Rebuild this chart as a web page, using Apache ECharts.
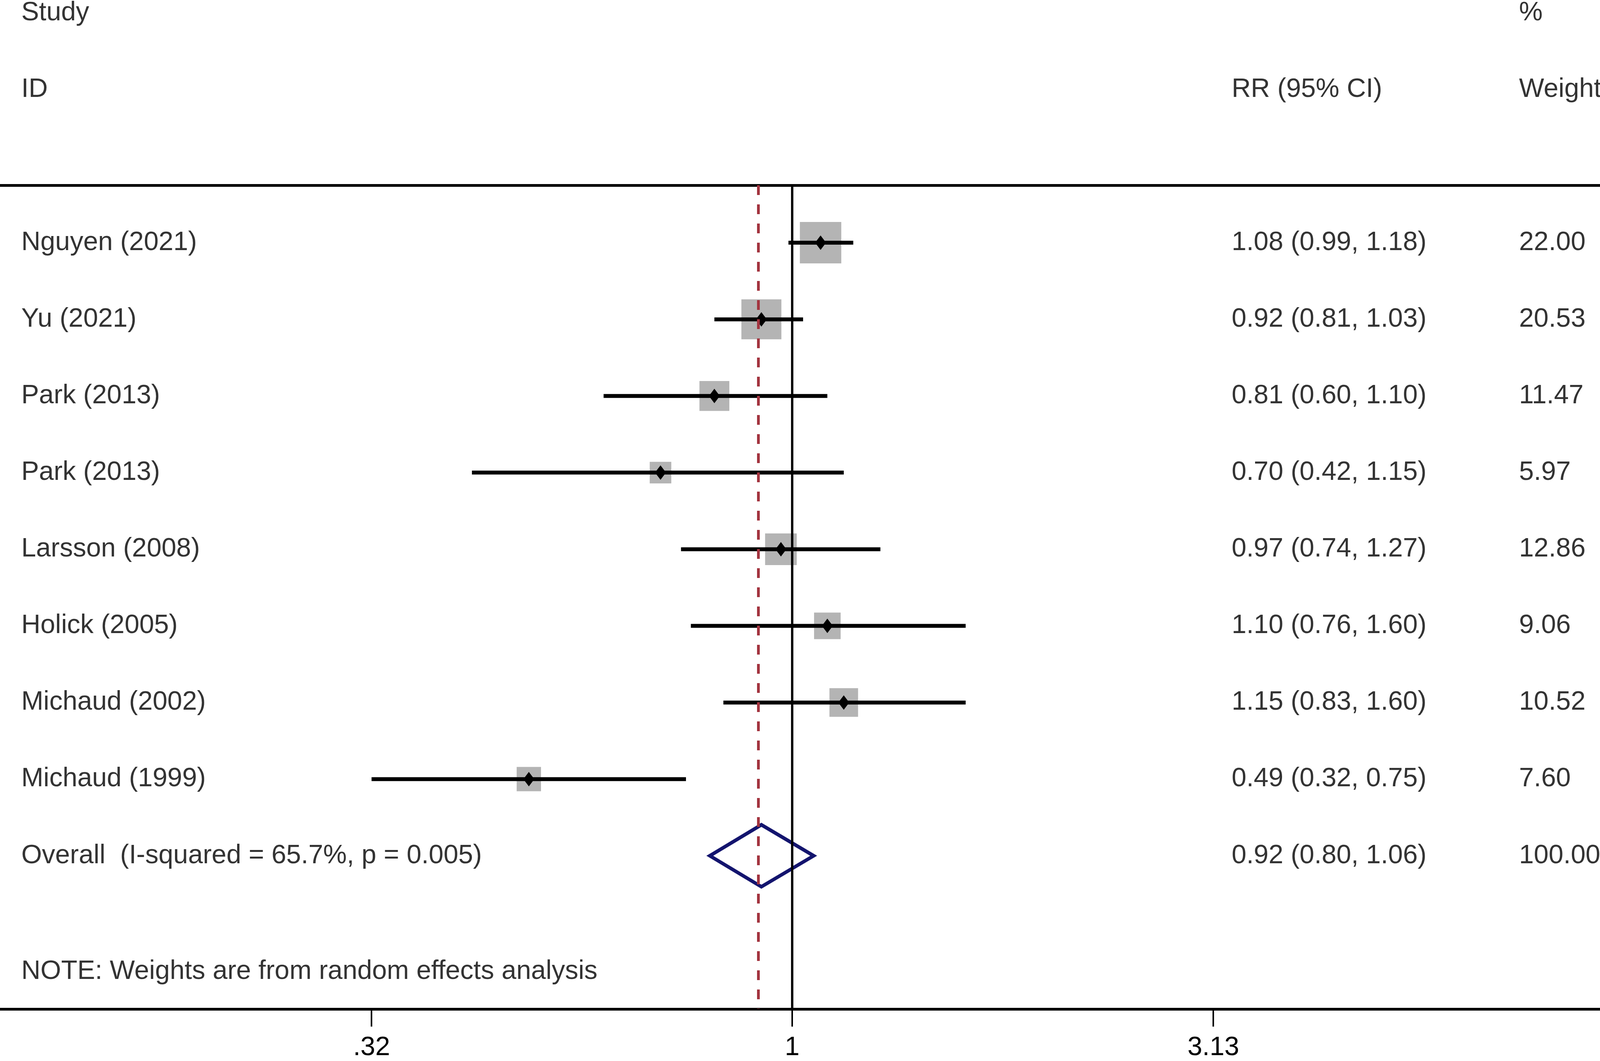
<!DOCTYPE html>
<html>
<head>
<meta charset="utf-8">
<title>Forest plot</title>
<script src="https://cdn.jsdelivr.net/npm/echarts@6/dist/echarts.min.js"></script>
<style>
  html, body { margin: 0; padding: 0; background: #fff; }
  #chart { width: 4317px; height: 2715px; }
</style>
</head>
<body>
<div id="chart"></div>
<script>
// study rows, top to bottom
const studies = ['Nguyen (2021)', 'Yu (2021)', 'Park (2013)', 'Park (2013)', 'Larsson (2008)', 'Holick (2005)', 'Michaud (2002)', 'Michaud (1999)'];
const rr = [1.08, 0.92, 0.81, 0.70, 0.97, 1.10, 1.15, 0.49];
const ciLower = [0.99, 0.81, 0.60, 0.42, 0.74, 0.76, 0.83, 0.32];
const ciUpper = [1.18, 1.03, 1.10, 1.15, 1.27, 1.60, 1.60, 0.75];
const weights = [22.00, 20.53, 11.47, 5.97, 12.86, 9.06, 10.52, 7.60];

const overallLabel = 'Overall  (I-squared = 65.7%, p = 0.005)';
const overallRR = 0.92;
const overallLower = 0.80;
const overallUpper = 1.06;
const overallWeight = 100.00;

const tickValues = [0.32, 1, 3.13];
const tickLabels = ['.32', '1', '3.13'];

const headStudy = ['Study', 'ID'];
const headRR = 'RR (95% CI)';
const headWeight = ['%', 'Weight'];
const noteText = 'NOTE: Weights are from random effects analysis';

// layout (log10 units on x, row numbers on y)
const X_MIN = -0.932, X_MAX = 1.052;
const COL_STUDY = -0.907, COL_RR = 0.5170, COL_WEIGHT = 0.8552;
const ROW_OVERALL = studies.length + 1;
const ROW_NOTE = 10.51;
const FONT = 'Liberation Sans, Arial, sans-serif';
const FS = 68;

const lg = v => Math.log10(v);
const fmt = v => v.toFixed(2);

const rows = studies.map((s, i) => i + 1);

// text items
const textData = [];
headStudy.forEach((t, i) => textData.push({ name: t, value: [COL_STUDY, i - 2] }));
textData.push({ name: headRR, value: [COL_RR, -1] });
headWeight.forEach((t, i) => textData.push({ name: t, value: [COL_WEIGHT, i - 2] }));
studies.forEach((s, i) => {
  textData.push({ name: s, value: [COL_STUDY, rows[i]] });
  textData.push({ name: fmt(rr[i]) + ' (' + fmt(ciLower[i]) + ', ' + fmt(ciUpper[i]) + ')', value: [COL_RR, rows[i]] });
  textData.push({ name: fmt(weights[i]), value: [COL_WEIGHT, rows[i]] });
});
textData.push({ name: overallLabel, value: [COL_STUDY, ROW_OVERALL] });
textData.push({ name: fmt(overallRR) + ' (' + fmt(overallLower) + ', ' + fmt(overallUpper) + ')', value: [COL_RR, ROW_OVERALL] });
textData.push({ name: fmt(overallWeight), value: [COL_WEIGHT, ROW_OVERALL] });
textData.push({ name: noteText, value: [COL_STUDY, ROW_NOTE] });

const chart = echarts.init(document.getElementById('chart'), null, { renderer: 'canvas' });

const option = {
  backgroundColor: '#fff',
  animation: false,
  grid: { left: 0, right: 0, top: 474, bottom: 123 },
  xAxis: [
    {
      type: 'value',
      min: X_MIN,
      max: X_MAX,
      position: 'bottom',
      splitLine: { show: false },
      axisLine: { show: true, onZero: false, lineStyle: { color: '#000', width: 7 } },
      axisTick: { show: true, customValues: tickValues.map(lg), length: 45, lineStyle: { color: '#000', width: 4 } },
      axisLabel: {
        show: true,
        customValues: tickValues.map(lg),
        margin: 65,
        color: '#000',
        fontFamily: FONT,
        fontSize: FS,
        formatter: v => {
          let best = 0;
          tickValues.forEach((t, i) => { if (Math.abs(lg(t) - v) < Math.abs(lg(tickValues[best]) - v)) best = i; });
          return tickLabels[best];
        }
      }
    },
    {
      type: 'value',
      min: X_MIN,
      max: X_MAX,
      position: 'top',
      splitLine: { show: false },
      axisLine: { show: true, onZero: false, lineStyle: { color: '#000', width: 7 } },
      axisTick: { show: false },
      axisLabel: { show: false }
    }
  ],
  yAxis: {
    type: 'value',
    min: 0.25,
    max: 11,
    inverse: true,
    show: false,
    splitLine: { show: false }
  },
  series: [
    // reference lines: null (RR = 1) and overall estimate
    {
      type: 'scatter',
      data: [],
      z: 1,
      markLine: {
        silent: true,
        symbol: 'none',
        label: { show: false },
        data: [
          { xAxis: lg(1), lineStyle: { color: '#000', width: 6, type: 'solid' } },
          { xAxis: lg(overallRR), lineStyle: { color: '#a3343f', width: 7, type: [25, 24] } }
        ]
      }
    },
    // weight boxes
    {
      type: 'scatter',
      z: 2,
      symbol: 'rect',
      symbolSize: v => 22.6 * Math.sqrt(v[2]),
      itemStyle: { color: '#b4b4b4', opacity: 1 },
      data: studies.map((s, i) => [lg(rr[i]), rows[i], weights[i]])
    },
    // confidence intervals
    {
      type: 'custom',
      z: 3,
      data: studies.map((s, i) => [lg(ciLower[i]), lg(ciUpper[i]), rows[i]]),
      encode: { x: [0, 1], y: 2 },
      renderItem: (params, api) => {
        const a = api.coord([api.value(0), api.value(2)]);
        const b = api.coord([api.value(1), api.value(2)]);
        return {
          type: 'line',
          shape: { x1: a[0], y1: a[1], x2: b[0], y2: b[1] },
          style: { stroke: '#000', lineWidth: 10 }
        };
      }
    },
    // point estimates
    {
      type: 'scatter',
      z: 4,
      symbol: 'diamond',
      symbolSize: [28, 37],
      itemStyle: { color: '#000', opacity: 1 },
      data: studies.map((s, i) => [lg(rr[i]), rows[i]])
    },
    // pooled estimate diamond
    {
      type: 'custom',
      z: 4,
      data: [[lg(overallLower), lg(overallRR), lg(overallUpper), ROW_OVERALL]],
      encode: { x: [0, 1, 2], y: 3 },
      renderItem: (params, api) => {
        const l = api.coord([api.value(0), api.value(3)]);
        const c = api.coord([api.value(1), api.value(3)]);
        const r = api.coord([api.value(2), api.value(3)]);
        const h = api.size([0, 0.404])[1];
        return {
          type: 'polygon',
          shape: { points: [[l[0], l[1]], [c[0], c[1] - h], [r[0], r[1]], [c[0], c[1] + h]] },
          style: { fill: 'none', stroke: '#13146e', lineWidth: 9, lineJoin: 'miter' }
        };
      }
    },
    // text columns
    {
      type: 'scatter',
      z: 5,
      clip: false,
      symbolSize: 0,
      silent: true,
      data: textData,
      label: {
        show: true,
        position: 'right',
        distance: 0,
        formatter: '{b}',
        color: '#000',
        fontFamily: FONT,
        fontSize: FS
      }
    }
  ]
};

chart.setOption(option);
</script>
</body>
</html>
